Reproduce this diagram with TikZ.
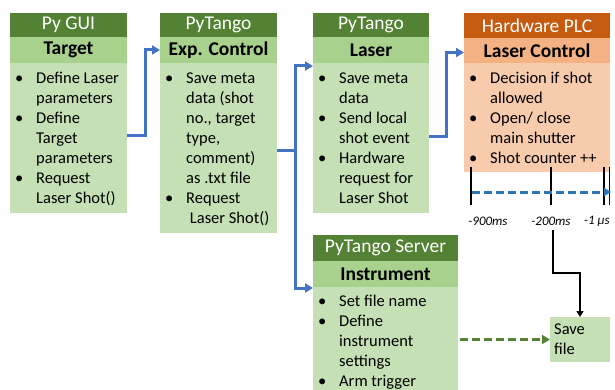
\documentclass[tikz,border=0pt]{standalone}
\usepackage{fontspec}
\setmainfont{Carlito}
\usetikzlibrary{arrows.meta}
\definecolor{hdgreen}{HTML}{548235}
\definecolor{sbgreen}{HTML}{A9D18E}
\definecolor{bdgreen}{HTML}{C5E0B4}
\definecolor{hdorange}{HTML}{C55A11}
\definecolor{sborange}{HTML}{F4B183}
\definecolor{bdorange}{HTML}{F8CBAD}
\definecolor{arrblue}{HTML}{4472C4}
\definecolor{dashblue}{HTML}{2E75B6}
\newcommand{\bodyfont}{\fontsize{16.5}{20}\selectfont}
\newcommand{\bl}{\textbullet}
\tikzset{
  panel/.style={anchor=north west, inner sep=0pt, outer sep=0pt, draw=none},
  hdr/.style={panel, text=white, font=\fontsize{19.5}{21}\selectfont},
  sub/.style={panel, text=black, font=\bfseries\fontsize{19.5}{21}\selectfont},
  body/.style={panel},
  btext/.style={anchor=north west, inner sep=0pt, font=\bodyfont, align=left},
  bluearrow/.style={draw=arrblue, line width=3pt, -{Triangle[length=8pt,width=9pt]}},
  bluedash/.style={draw=dashblue, line width=3pt, dash pattern=on 8pt off 4pt, -{Triangle[length=7pt,width=8pt]}},
  greendash/.style={draw=hdgreen, line width=3pt, dash pattern=on 8pt off 4pt, -{Triangle[length=8pt,width=9pt]}},
  blackarrow/.style={draw=black, line width=2pt, -{Triangle[length=6pt,width=7pt]}},
  tick/.style={draw=black, line width=1.8pt},
  tlabel/.style={inner sep=0pt, font=\itshape\fontsize{13}{15}\selectfont}
}
\begin{document}
\begin{tikzpicture}[x=1pt,y=-1pt]
\useasboundingbox (0,0) rectangle (615,390);

% Box 1: Py GUI / Target
\node[hdr, fill=hdgreen, minimum width=117pt, minimum height=24pt] (h1) at (10,13) {Py GUI};
\node[sub, fill=sbgreen, minimum width=117pt, minimum height=26pt] (s1) at (h1.south west) {Target};
\node[body, fill=bdgreen, minimum width=117pt, minimum height=150pt] (b1) at (s1.south west) {};
\node[btext] (t1) at ([shift={(5,6)}]b1.north west) {%
\begin{tabular}{@{}p{21pt}@{}l@{}}
\bl & Define Laser\\
 & parameters\\
\bl & Define\\
 & Target\\
 & parameters\\
\bl & Request\\
 & Laser Shot()
\end{tabular}};

% Box 2: PyTango / Exp. Control
\node[hdr, fill=hdgreen, minimum width=117pt, minimum height=24pt] (h2) at (160,13) {PyTango};
\node[sub, fill=sbgreen, minimum width=117pt, minimum height=26pt] (s2) at (h2.south west) {Exp. Control};
\node[body, fill=bdgreen, minimum width=117pt, minimum height=170pt] (b2) at (s2.south west) {};
\node[btext] (t2) at ([shift={(5,6)}]b2.north west) {%
\begin{tabular}{@{}p{21pt}@{}l@{}}
\bl & Save meta\\
 & data (shot\\
 & no., target\\
 & type,\\
 & comment)\\
 & as .txt file\\
\bl & Request\\
 & \ Laser Shot()
\end{tabular}};

% Box 3: PyTango / Laser
\node[hdr, fill=hdgreen, minimum width=116pt, minimum height=24pt] (h3) at (313,13) {PyTango};
\node[sub, fill=sbgreen, minimum width=116pt, minimum height=26pt] (s3) at (h3.south west) {Laser};
\node[body, fill=bdgreen, minimum width=116pt, minimum height=150pt] (b3) at (s3.south west) {};
\node[btext] (t3) at ([shift={(5,6)}]b3.north west) {%
\begin{tabular}{@{}p{21pt}@{}l@{}}
\bl & Save meta\\
 & data\\
\bl & Send local\\
 & shot event\\
\bl & Hardware\\
 & request for\\
 & Laser Shot
\end{tabular}};

% Box 4: Hardware PLC / Laser Control
\node[hdr, fill=hdorange, minimum width=146pt, minimum height=25pt] (h4) at (464,13) {Hardware PLC};
\node[sub, fill=sborange, minimum width=146pt, minimum height=25pt] (s4) at (h4.south west) {Laser Control};
\node[body, fill=bdorange, minimum width=146pt, minimum height=109pt] (b4) at (s4.south west) {};
\node[btext] (t4) at ([shift={(5,6)}]b4.north west) {%
\begin{tabular}{@{}p{21pt}@{}l@{}}
\bl & Decision if shot\\
 & allowed\\
\bl & Open/ close\\
 & main shutter\\
\bl & Shot counter ++
\end{tabular}};

% Box 5: PyTango Server / Instrument
\node[hdr, fill=hdgreen, minimum width=145pt, minimum height=26pt] (h5) at (313,235) {PyTango Server};
\node[sub, fill=sbgreen, minimum width=145pt, minimum height=26pt] (s5) at (h5.south west) {Instrument};
\node[body, fill=bdgreen, minimum width=145pt, minimum height=103pt] (b5) at (s5.south west) {};
\node[btext] (t5) at ([shift={(5,5)}]b5.north west) {%
\begin{tabular}{@{}p{21pt}@{}l@{}}
\bl & Set file name\\
\bl & Define\\
 & instrument\\
 & settings\\
\bl & Arm trigger
\end{tabular}};

% Save file box
\node[body, fill=bdgreen, minimum width=60pt, minimum height=45pt] (save) at (550,317) {};
\node[btext] (savetext) at ([shift={(4,3)}]save.north west) {%
\begin{tabular}{@{}l@{}}Save\\ file\end{tabular}};

% Blue connectors
\draw[bluearrow] ([yshift=2pt]b1.east) -- ++(18,0) |- (s2.west);
\draw[bluearrow] ([yshift=-3pt]b2.east) -- ++(18,0) |- ([yshift=-3pt]b3.north west);
\draw[bluearrow] ([yshift=-3pt]b2.east) -- ++(18,0) |- ([yshift=-1pt]b5.north west);
\draw[bluearrow] ([yshift=1pt]b3.east) -- ++(17,0) |- ([yshift=-2pt]s4.west);

% Timeline
\draw[tick] (471,167) -- (471,205);
\draw[tick] (551,167) -- (551,205);
\draw[tick] (604,167) -- (604,205);
\draw[tick] (609.5,167) -- (609.5,205);
\draw[bluedash] (472,192) -- (611,192);
\node[tlabel] (l900) at (488,221) {-900ms};
\node[tlabel] (l200) at (551,221) {-200ms};
\node[tlabel] (l1) at (597,221) {-1 µs};

% Black arrow to Save file
\coordinate (bkstart) at (553,230);
\draw[blackarrow] (bkstart) -- (553,273) -| (save.north);

% Green dashed arrow to Save file
\draw[greendash] ([xshift=2pt]save.west -| b5.east) -- (save.west);
\end{tikzpicture}
\end{document}
